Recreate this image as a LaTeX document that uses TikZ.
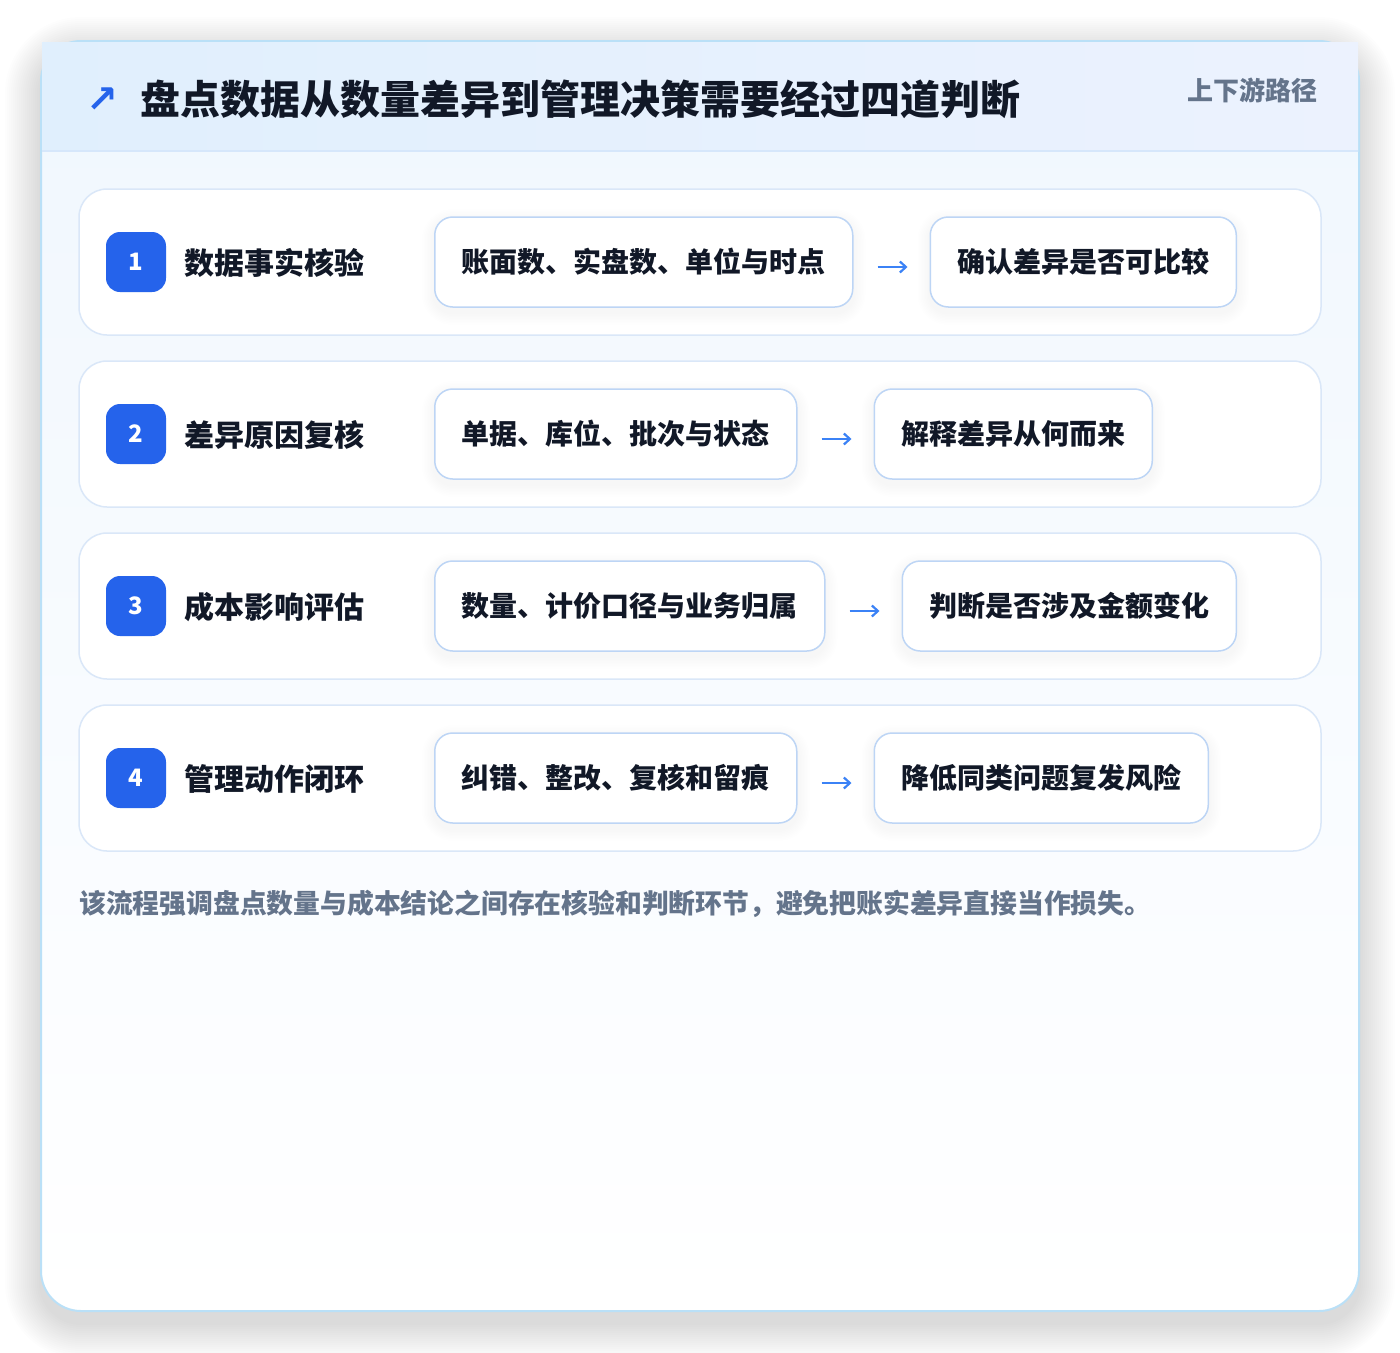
\documentclass[tikz,border=0pt]{standalone}
\usepackage{fontspec}
\setmainfont{Noto Sans CJK SC}
\newfontfamily\symfont{DejaVu Sans}
\usetikzlibrary{arrows.meta}
\pgfdeclarelayer{back}
\pgfdeclarelayer{cardlayer}
\pgfdeclarelayer{shl}
\pgfsetlayers{back,cardlayer,shl,main}
\definecolor{cardline}{HTML}{BAE0F7}
\definecolor{headL}{HTML}{E0EFFD}
\definecolor{headR}{HTML}{ECF2FE}
\definecolor{headline}{HTML}{D6E7FB}
\definecolor{bodytop}{HTML}{F0F7FE}
\definecolor{rowline}{HTML}{DAE7F8}
\definecolor{boxline}{HTML}{BDD5F5}
\definecolor{badgeblue}{HTML}{2563EB}
\definecolor{arrowblue}{HTML}{3B82F6}
\definecolor{darktext}{HTML}{111827}
\definecolor{greytext}{HTML}{64748B}
% soft shadow: x1,y1,x2,y2,radius,dy,spread,steps,opacity
\newcommand\mkshadow[9]{%
  \foreach \k in {1,...,#8}{%
    \pgfmathsetmacro\ee{#7*\k/#8}%
    \pgfmathsetmacro\rr{#5+\ee}%
    \fill[black, opacity=#9, rounded corners=\rr pt] (#1-\ee,#2-\ee+#6) rectangle (#3+\ee,#4+\ee+#6);
  }%
}
\newcommand\boxshadow[1]{%
  \foreach \k in {1,...,8}{%
    \pgfmathsetmacro\ee{12*\k/8}%
    \pgfmathsetmacro\rr{18+\ee}%
    \fill[black, opacity=0.005, rounded corners=\rr pt] ([shift={(-\ee,-\ee+5)}]#1.north west) rectangle ([shift={(\ee,\ee+5)}]#1.south east);
  }%
}
\tikzset{
  rowcard/.style={draw=rowline, line width=1.5pt, fill=white, rounded corners=28pt},
  badge/.style={fill=badgeblue, rounded corners=14pt, minimum width=60pt, minimum height=60pt,
    inner sep=0pt, text=white, font=\fontsize{24}{28}\selectfont\bfseries},
  steplabel/.style={anchor=west, inner sep=0pt, text=darktext, font=\fontsize{30}{36}\selectfont\bfseries},
  infobox/.style={draw=boxline, line width=1.5pt, fill=white, rounded corners=18pt,
    minimum height=90pt, inner xsep=27pt, inner ysep=0pt, text=darktext,
    font=\fontsize{28}{34}\selectfont\bfseries},
  flowarrow/.style={draw=arrowblue, line width=2.2pt, -{Straight Barb[length=6pt,width=11pt]}}
}
\begin{document}
\begin{tikzpicture}[x=1pt,y=-1pt]
\begin{pgfonlayer}{back}
\useasboundingbox[fill=white] (0,0) rectangle (1400,1352);
\mkshadow{41}{41}{1359}{1311}{40}{12}{36}{18}{0.0065}
\end{pgfonlayer}
\begin{pgfonlayer}{cardlayer}
\shade[rounded corners=40pt, top color=bodytop, bottom color=white] (41,41) rectangle (1359,1311);
\draw[rounded corners=40pt, draw=cardline, line width=2pt] (41,41) rectangle (1359,1311);
\shade[left color=headL, right color=headR] (42,42) rectangle (1358,151);
\draw[headline, line width=1.5pt] (42,151) -- (1358,151);
\foreach \i in {1,...,4}{
  \pgfmathsetmacro{\cy}{262+172*(\i-1)}
  \draw[rowcard] (79,\cy-73) rectangle (1321,\cy+73);
}
\end{pgfonlayer}
\node[anchor=center, inner sep=0pt, text=badgeblue, font=\symfont\fontsize{38}{42}\selectfont\bfseries] (icon) at (102,100) {↗};
\node[anchor=west, inner sep=0pt, text=darktext, font=\fontsize{40}{48}\selectfont\bfseries] (title) at (140,99) {盘点数据从数量差异到管理决策需要经过四道判断};
\node[anchor=east, inner sep=0pt, text=greytext, font=\fontsize{26}{30}\selectfont\bfseries] (tag) at (1318,90) {上下游路径};
% rows
\foreach \i/\lab/\ta/\tb in {1/数据事实核验/{账面数、实盘数、单位与时点}/{确认差异是否可比较},
  2/差异原因复核/{单据、库位、批次与状态}/{解释差异从何而来},
  3/成本影响评估/{数量、计价口径与业务归属}/{判断是否涉及金额变化},
  4/管理动作闭环/{纠错、整改、复核和留痕}/{降低同类问题复发风险}}{
  \pgfmathsetmacro{\cy}{262+172*(\i-1)}
  \node[badge] (badge\i) at (136,\cy) {\i};
  \node[steplabel] (label\i) at (184,\cy+1) {\lab};
  \node[infobox, anchor=west] (boxa\i) at (434,\cy) {\ta};
  \node[infobox, anchor=west] (boxb\i) at ([xshift=76pt]boxa\i.east) {\tb};
  \begin{pgfonlayer}{shl}
    \boxshadow{boxa\i}
    \boxshadow{boxb\i}
  \end{pgfonlayer}
  \draw[flowarrow, shorten <=24pt, shorten >=22pt] ([yshift=-5pt]boxa\i.east) -- ([yshift=-5pt]boxb\i.west);
}
% footnote
\node[anchor=west, inner sep=0pt, text=greytext, font=\fontsize{26.8}{32}\selectfont\bfseries] (note) at (79,904) {该流程强调盘点数量与成本结论之间存在核验和判断环节，避免把账实差异直接当作损失。};
\end{tikzpicture}
\end{document}
